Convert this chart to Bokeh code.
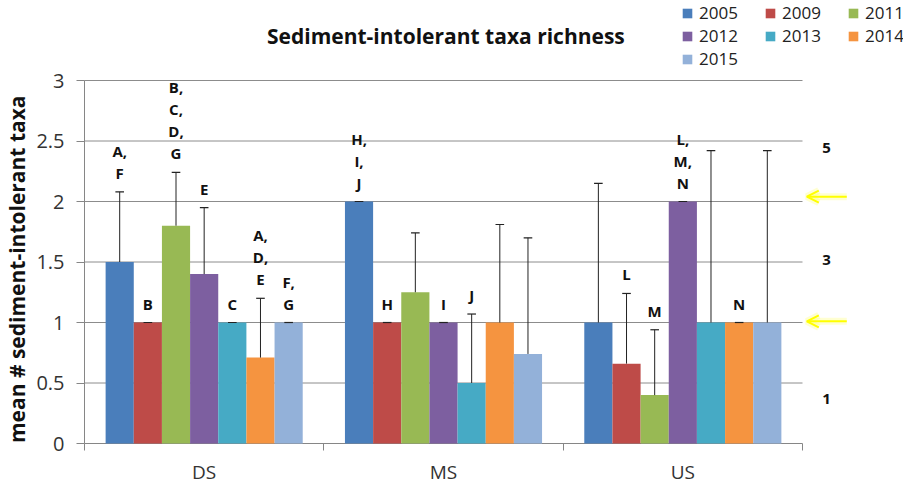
import math
from bokeh.plotting import figure
from bokeh.models import (FixedTicker, Label, Legend, LegendItem, Arrow, OpenHead,
                          ColumnDataSource, Range1d)
from bokeh.core.properties import value
from bokeh.embed import file_html
from bokeh.resources import INLINE

# ---------------- data ----------------
sites = ["DS", "MS", "US"]
years = ["2005", "2009", "2011", "2012", "2013", "2014", "2015"]
colors = ["#4A7EBB", "#BE4B48", "#98B954", "#7D5FA0", "#46AAC5", "#F59440", "#93B1D9"]

mean_2005 = [1.5, 2.0, 1.0]
mean_2009 = [1.0, 1.0, 0.66]
mean_2011 = [1.8, 1.25, 0.4]
mean_2012 = [1.4, 1.0, 2.0]
mean_2013 = [1.0, 0.5, 1.0]
mean_2014 = [0.71, 1.0, 1.0]
mean_2015 = [1.0, 0.74, 1.0]

err_2005 = [0.58, 0.0, 1.15]
err_2009 = [0.0, 0.0, 0.58]
err_2011 = [0.44, 0.49, 0.54]
err_2012 = [0.55, 0.0, 0.0]
err_2013 = [0.0, 0.57, 1.42]
err_2014 = [0.49, 0.81, 0.0]
err_2015 = [0.0, 0.96, 1.42]

letters_2005 = ["A,\nF", "H,\nI,\nJ", ""]
letters_2009 = ["B", "H", "L"]
letters_2011 = ["B,\nC,\nD,\nG", "", "M"]
letters_2012 = ["E", "I", "L,\nM,\nN"]
letters_2013 = ["C", "J", ""]
letters_2014 = ["A,\nD,\nE", "", "N"]
letters_2015 = ["F,\nG", "", ""]

ytick_values = [0, 0.5, 1, 1.5, 2, 2.5, 3]
ytick_labels = ["0", "0.5", "1", "1.5", "2", "2.5", "3"]

right_labels = ["5", "3", "1"]
right_label_y = [2.44, 1.52, 0.37]
arrow_y = [2.04, 1.01]

means = [mean_2005, mean_2009, mean_2011, mean_2012, mean_2013, mean_2014, mean_2015]
errs = [err_2005, err_2009, err_2011, err_2012, err_2013, err_2014, err_2015]
letters = [letters_2005, letters_2009, letters_2011, letters_2012, letters_2013,
           letters_2014, letters_2015]

FONT = "Open Sans"
AXIS_GRAY = "#868686"

# ---------------- layout ----------------
# The frame covers the whole canvas; both axes are fixed at value 0 so that
# every text (title, legend, side labels) lies inside the frame.
W, H = 903, 485
ORIGIN_X = 84        # canvas x of the value axis
TOP_PX = 80          # canvas y of value 3
ZERO_PX = 443        # canvas y of value 0
RIGHT_PX = 802       # canvas x of the end of the category axis
Y_MAX = 3.0
X_MAX = 3.0
py = (ZERO_PX - TOP_PX) / Y_MAX
px = (RIGHT_PX - ORIGIN_X) / X_MAX

p = figure(width=W, height=H,
           x_range=Range1d(-ORIGIN_X / px, (W - ORIGIN_X) / px),
           y_range=Range1d(-(H - ZERO_PX) / py, Y_MAX + TOP_PX / py),
           output_backend="svg", toolbar_location=None, title=None,
           min_border_left=0, min_border_right=0, min_border_top=0,
           min_border_bottom=0)
p.outline_line_color = None
p.background_fill_color = "white"
p.border_fill_color = "white"

# gridlines and axis lines drawn only over the real plot area
grid_src = ColumnDataSource(dict(y=ytick_values[1:]))
p.segment(x0=0, y0="y", x1=X_MAX, y1="y", source=grid_src,
          line_color="#8C8C8C", line_width=1)
p.segment(x0=[0], y0=[0], x1=[0], y1=[Y_MAX], line_color=AXIS_GRAY, line_width=1)
p.segment(x0=[0], y0=[0], x1=[X_MAX], y1=[0], line_color=AXIS_GRAY, line_width=1)

n = len(years)
slot = 1.0 / (n + 1.5)
cap_half = 0.018
centers = [i + 0.5 for i in range(len(sites))]

items = []
for k, yr in enumerate(years):
    xs = [c + (k - (n - 1) / 2) * slot for c in centers]
    tops = [m + e for m, e in zip(means[k], errs[k])]
    src = ColumnDataSource(dict(x=xs, top=means[k], etop=tops,
                                x0=[x - cap_half for x in xs],
                                x1=[x + cap_half for x in xs],
                                lab=letters[k]))
    r = p.vbar(x="x", top="top", bottom=0, width=slot, source=src,
               fill_color=colors[k], line_color=None)
    p.segment(x0="x", y0="top", x1="x", y1="etop", source=src,
              line_color="#222222", line_width=1)
    p.segment(x0="x0", y0="etop", x1="x1", y1="etop", source=src,
              line_color="#222222", line_width=1.2)
    p.text(x="x", y="etop", text="lab", source=src, text_align="center",
           text_baseline="bottom", y_offset=-9, text_font=value(FONT),
           text_font_style="bold", text_font_size="15px", text_color="#111111",
           text_line_height=1.1)
    items.append(LegendItem(label=yr, renderers=[r]))

# value axis, fixed at category position 0
p.yaxis.fixed_location = 0
p.yaxis.ticker = FixedTicker(ticks=ytick_values)
p.yaxis.major_label_overrides = {v: l for v, l in zip(ytick_values, ytick_labels)}
p.yaxis.major_label_text_font = FONT
p.yaxis.major_label_text_font_size = "20px"
p.yaxis.major_label_text_color = "#333333"
p.yaxis.major_tick_out = 8
p.yaxis.major_tick_in = 0
p.yaxis.minor_tick_line_color = None
p.yaxis.major_tick_line_color = AXIS_GRAY
p.yaxis.axis_line_color = None
p.yaxis.major_label_standoff = 12

# value-axis title, centred on the 0-3 span
p.add_layout(Label(x=-0.283, y=1.44, text="mean # sediment-intolerant taxa",
                   angle=math.pi / 2, text_align="center", text_baseline="middle",
                   text_font=FONT, text_font_style="bold", text_font_size="21px",
                   text_color="#111111"))

# category axis, fixed at value 0
p.xaxis.fixed_location = 0
p.xaxis.ticker = FixedTicker(ticks=centers, minor_ticks=[0, 1, 2, 3])
p.xaxis.major_label_overrides = {c: s for c, s in zip(centers, sites)}
p.xaxis.major_tick_line_color = None
p.xaxis.major_tick_out = 0
p.xaxis.minor_tick_out = 7
p.xaxis.minor_tick_in = 0
p.xaxis.minor_tick_line_color = AXIS_GRAY
p.xaxis.axis_line_color = None
p.xaxis.major_label_standoff = 8
p.xaxis.major_label_text_font = FONT
p.xaxis.major_label_text_font_size = "19px"
p.xaxis.major_label_text_color = "#333333"

p.xgrid.visible = False
p.ygrid.visible = False

# title
p.add_layout(Label(x=1.51, y=3.364, text="Sediment-intolerant taxa richness",
                   text_align="center", text_baseline="middle", text_font=FONT,
                   text_font_style="bold", text_font_size="21px",
                   text_color="#111111"))

# right side labels
for t, yv in zip(right_labels, right_label_y):
    p.add_layout(Label(x=3.1, y=yv, text=t, text_align="center",
                       text_baseline="middle", text_font=FONT,
                       text_font_style="bold", text_font_size="15px",
                       text_color="#111111"))

for yv in arrow_y:
    p.add_layout(Arrow(end=OpenHead(size=12, line_color="#FFFF00", line_width=7,
                                    line_alpha=0.18),
                       x_start=3.185, y_start=yv, x_end=3.018, y_end=yv,
                       line_color="#FFFF00", line_width=7, line_alpha=0.18))
    p.add_layout(Arrow(end=OpenHead(size=12, line_color="#FFFF00", line_width=2),
                       x_start=3.185, y_start=yv, x_end=3.018, y_end=yv,
                       line_color="#FFFF00", line_width=2))

# legend (location relative to the frame's lower-left corner, in pixels)
legend = Legend(items=items, ncols=3, orientation="horizontal",
                location=(681, H - 70), padding=0, margin=0, spacing=-1,
                glyph_width=12, glyph_height=12, label_standoff=6,
                label_width=65, label_height=20,
                label_text_font=FONT, label_text_font_size="17px",
                label_text_color="#222222",
                border_line_color=None, background_fill_alpha=0)
p.add_layout(legend, "center")

open("out.html", "w").write(file_html(p, INLINE))
